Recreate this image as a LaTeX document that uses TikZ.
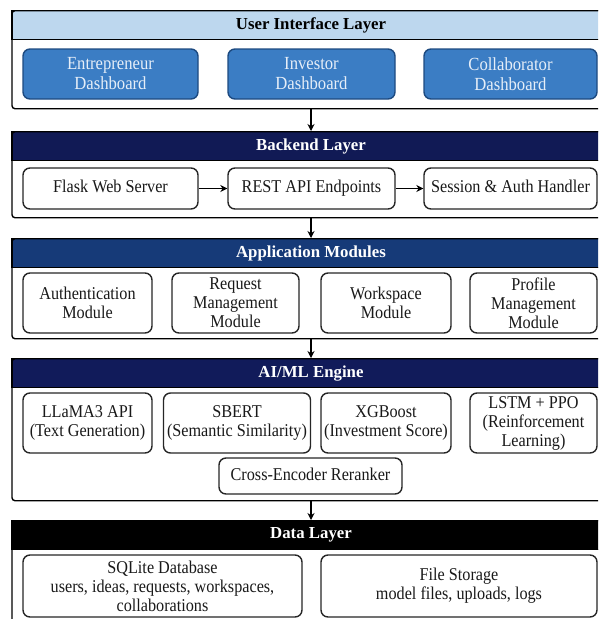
\documentclass[tikz,border=0pt]{standalone}
\usepackage{fontspec}
\setmainfont{Liberation Serif}[FakeStretch=0.9]
\newfontfamily\hdrfont{Liberation Serif}
\usetikzlibrary{arrows.meta}
\definecolor{hdrA}{HTML}{BDD7EE}
\definecolor{hdrB}{HTML}{111A55}
\definecolor{hdrC}{HTML}{163A78}
\definecolor{hdrD}{HTML}{111B5A}
\definecolor{dashfill}{HTML}{3B7DC4}
\definecolor{dashline}{HTML}{1D4A80}
\definecolor{dashtext}{HTML}{E6EEF8}
\begin{document}
\begin{tikzpicture}[x=1pt,y=-1pt,
  font=\fontsize{18}{19}\selectfont,
  layerframe/.style={draw, line width=1.4pt, rounded corners=3pt, minimum width=598pt, anchor=north, inner sep=0pt},
  layerhdr/.style={draw, line width=1.4pt, minimum width=598pt, minimum height=29pt, anchor=north, inner sep=0pt, text=white, font=\hdrfont\bfseries\fontsize{16.8}{18}\selectfont},
  modbox/.style={draw=black!85, line width=1.4pt, rounded corners=7pt, fill=white, align=center, inner sep=0pt, text=black!90},
  uibox/.style={draw=dashline, line width=1.4pt, rounded corners=7pt, fill=dashfill, align=center, inner sep=0pt, text=dashtext, font=\fontsize{18.5}{20}\selectfont},
  oneline/.style={text height=12.5pt, text depth=4pt},
  arr/.style={-{Stealth[length=7pt,width=7pt]}, line width=1.4pt}
]
\useasboundingbox (0,0) rectangle (598,619);
\clip (0,0) rectangle (598,619);

% Layer 1
\node[layerhdr, fill=hdrA, text=black] (H1) at (311,10) {User Interface Layer};
\node[layerframe, minimum height=98pt] (L1) at (311,10) {};
\node[uibox, minimum width=175pt, minimum height=50pt] (ent) at (110.5,74) {Entrepreneur\\Dashboard};
\node[uibox, minimum width=167pt, minimum height=50pt] (inv) at (311.5,74) {Investor\\Dashboard};
\node[uibox, minimum width=173pt, minimum height=50pt] (col) at (510.5,74) {Collaborator\\Dashboard};

% Layer 2
\node[layerhdr, fill=hdrB] (H2) at (311,131) {Backend Layer};
\node[layerframe, minimum height=86pt] (L2) at (311,131) {};
\node[modbox, oneline, minimum width=175pt, minimum height=41pt] (flask) at (110.5,188.5) {Flask Web Server};
\node[modbox, oneline, minimum width=167pt, minimum height=41pt] (rest) at (311.5,188.5) {REST API Endpoints};
\node[modbox, oneline, minimum width=173pt, minimum height=41pt] (sess) at (510.5,188.5) {Session \& Auth Handler};
\draw[arr] (flask) -- (rest);
\draw[arr] (rest) -- (sess);

% Layer 3
\node[layerhdr, fill=hdrC] (H3) at (311,238) {Application Modules};
\node[layerframe, minimum height=100pt] (L3) at (311,238) {};
\node[modbox, minimum width=129pt, minimum height=60pt] (auth) at (87.5,303) {Authentication\\Module};
\node[modbox, minimum width=127pt, minimum height=60pt] (req) at (235.5,303) {Request\\Management\\Module};
\node[modbox, minimum width=130pt, minimum height=60pt] (work) at (386,303) {Workspace\\Module};
\node[modbox, minimum width=127pt, minimum height=60pt] (prof) at (533.5,303) {Profile\\Management\\Module};

% Layer 4
\node[layerhdr, fill=hdrD] (H4) at (311,358) {AI/ML Engine};
\node[layerframe, minimum height=142pt] (L4) at (311,358) {};
\node[modbox, minimum width=129pt, minimum height=60pt] (llama) at (87.5,423) {LLaMA3 API\\(Text Generation)};
\node[modbox, minimum width=147pt, minimum height=60pt] (sbert) at (237,423) {SBERT\\(Semantic Similarity)};
\node[modbox, minimum width=130pt, minimum height=60pt] (xgb) at (386,423) {XGBoost\\(Investment Score)};
\node[modbox, minimum width=127pt, minimum height=60pt] (lstm) at (533.5,423) {LSTM + PPO\\(Reinforcement\\Learning)};
\node[modbox, oneline, minimum width=183pt, minimum height=36pt] (cross) at (310.5,476) {Cross-Encoder Reranker};

% Layer 5
\node[layerhdr, fill=black] (H5) at (311,520) {Data Layer};
\node[layerframe, minimum height=130pt] (L5) at (311,520) {};
\node[modbox, minimum width=279pt, minimum height=62pt] (sql) at (162.5,586) {SQLite Database\\users, ideas, requests, workspaces,\\collaborations};
\node[modbox, minimum width=276pt, minimum height=62pt] (file) at (459,586) {File Storage\\model files, uploads, logs};

% Inter-layer arrows
\draw[arr] (L1.south) -- (L2.north);
\draw[arr] (L2.south) -- (L3.north);
\draw[arr] (L3.south) -- (L4.north);
\draw[arr] (L4.south) -- (L5.north);
\end{tikzpicture}
\end{document}
